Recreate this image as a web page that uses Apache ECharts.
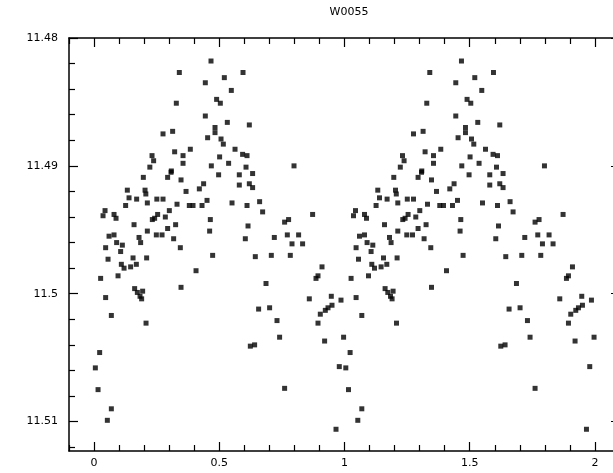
<!DOCTYPE html>
<html>
<head>
<meta charset="utf-8">
<script src="https://cdn.jsdelivr.net/npm/echarts@6/dist/echarts.min.js"></script>
<style>
  html, body { margin: 0; padding: 0; background: #fff; }
  #chart { width: 613px; height: 473px; }
</style>
</head>
<body>
<div id="chart"></div>
<script>
// folded light curve, one cycle; drawn twice (phase and phase + 1)
var phase = [
  0.467, 0.3405, 0.5948, 0.5202, 0.4443, 0.5481, 0.4894, 0.5042, 0.3285, 0.4443,
  0.5321, 0.62, 0.483, 0.483, 0.3138, 0.2754, 0.4535, 0.507, 0.5162, 0.5629,
  0.3844, 0.3218, 0.3553, 0.5014, 0.5932, 0.6108, 0.3553, 0.5373, 0.4683, 0.6068,
  0.2315, 0.2379, 0.2228, 0.3086, 0.7984, 0.1968, 0.1329, 0.2036, 0.2068, 0.1397,
  0.1701, 0.2507, 0.2754, 0.1261, 0.2128, 0.0439, 0.0359, 0.0798, 0.0878, 0.2419,
  0.2327, 0.1597, 0.2128, 0.2487, 0.0599, 0.0798, 0.1796, 0.186, 0.0902, 0.113,
  0.1062, 0.0463, 0.1557, 0.21, 0.0559, 0.109, 0.1198, 0.1461, 0.1689, 0.0958,
  0.0263, 0.1621, 0.1729, 0.194, 0.1836, 0.0463, 0.19, 0.0691, 0.2076, 0.0224,
  0.0052, 0.016, 0.0691, 0.0531, 0.3074, 0.2938, 0.3473, 0.4974, 0.58, 0.62,
  0.58, 0.4375, 0.4204, 0.3673, 0.3313, 0.3804, 0.3952, 0.4311, 0.4511, 0.5509,
  0.6108, 0.3006, 0.2539, 0.2846, 0.4643, 0.3257, 0.2938, 0.6148, 0.4615, 0.2715,
  0.3178, 0.604, 0.3445, 0.4735, 0.4072, 0.3473, 0.6331, 0.6331, 0.6611, 0.6731,
  0.8727, 0.7609, 0.7768, 0.7198, 0.7717, 0.8168, 0.7904, 0.8327, 0.6439, 0.7078,
  0.7836, 0.9102, 0.8942, 0.8862, 0.6866, 0.8595, 0.9473, 0.986, 0.6571, 0.701,
  0.9501, 0.9341, 0.9234, 0.9034, 0.7305, 0.8942, 0.7409, 0.9206, 0.9964, 0.6411,
  0.624, 0.9792, 0.7609, 0.9661
]
var mag = [
  11.4818, 11.4827, 11.4827, 11.4831, 11.4835, 11.4841, 11.4848, 11.4851, 11.4851, 11.4861,
  11.4866, 11.4868, 11.487, 11.4874, 11.4873, 11.4875, 11.4878, 11.4879, 11.4883, 11.4887,
  11.4887, 11.4889, 11.4892, 11.4893, 11.4891, 11.4892, 11.4898, 11.4898, 11.49, 11.4901,
  11.4892, 11.4896, 11.4901, 11.4904, 11.49, 11.4909, 11.4919, 11.4919, 11.4922, 11.4925,
  11.4926, 11.4926, 11.4926, 11.4931, 11.4929, 11.4935, 11.4939, 11.4938, 11.4941, 11.4941,
  11.4942, 11.4946, 11.4951, 11.4954, 11.4955, 11.4954, 11.4956, 11.496, 11.496, 11.4962,
  11.4967, 11.4964, 11.4972, 11.4972, 11.4973, 11.4977, 11.498, 11.4979, 11.4977, 11.4986,
  11.4988, 11.4996, 11.4999, 11.4998, 11.5002, 11.5003, 11.5004, 11.5017, 11.5023, 11.5046,
  11.5058, 11.5075, 11.509, 11.5099, 11.4905, 11.4909, 11.4911, 11.4907, 11.4907, 11.4914,
  11.4915, 11.4914, 11.4918, 11.492, 11.493, 11.4931, 11.4931, 11.4931, 11.4927, 11.4929,
  11.4931, 11.4935, 11.4938, 11.494, 11.4942, 11.4946, 11.4949, 11.4947, 11.4951, 11.4954,
  11.4957, 11.4957, 11.4964, 11.497, 11.4982, 11.4995, 11.4906, 11.4917, 11.4928, 11.4936,
  11.4938, 11.4944, 11.4942, 11.4956, 11.4954, 11.4954, 11.4961, 11.4961, 11.4971, 11.497,
  11.497, 11.4979, 11.4986, 11.4988, 11.4992, 11.5004, 11.5002, 11.5005, 11.5012, 11.5011,
  11.5009, 11.5011, 11.5013, 11.5016, 11.5021, 11.5023, 11.5034, 11.5037, 11.5034, 11.504,
  11.5041, 11.5057, 11.5074, 11.5106
]

var xMajor = [0, 0.5, 1, 1.5, 2]
var xMinor = [-0.1, 0.1, 0.2, 0.3, 0.4, 0.6, 0.7, 0.8, 0.9, 1.1, 1.2, 1.3, 1.4,
  1.6, 1.7, 1.8, 1.9, 2.1]
var yMajor = [11.48, 11.49, 11.5, 11.51]
var yMinor = [11.482, 11.484, 11.486, 11.488, 11.492, 11.494, 11.496, 11.498,
  11.502, 11.504, 11.506, 11.508, 11.512]

var font = 'DejaVu Sans'

function xAxisOf(pos, ticks, len, withLabel) {
  return {
    type: 'value',
    position: pos,
    min: -0.1,
    max: 2.1,
    splitLine: { show: false },
    axisLine: { show: withLabel !== null, onZero: false, lineStyle: { color: '#000', width: 1.5 } },
    axisTick: { inside: true, length: len, customValues: ticks, lineStyle: { color: '#000', width: 1.2 } },
    axisLabel: withLabel ? {
      customValues: ticks,
      margin: 7,
      color: '#000',
      fontFamily: font,
      fontSize: 11,
      formatter: function (v) { return String(+v.toFixed(1)) }
    } : { show: false }
  }
}

function yAxisOf(pos, ticks, len, withLabel) {
  return {
    type: 'value',
    position: pos,
    inverse: true,
    min: 11.48,
    max: 11.5123,
    splitLine: { show: false },
    axisLine: { show: withLabel !== null, onZero: false, lineStyle: { color: '#000', width: 1.5 } },
    axisTick: { inside: true, length: len, customValues: ticks, lineStyle: { color: '#000', width: 1.2 } },
    axisLabel: withLabel ? {
      customValues: ticks,
      margin: 11,
      color: '#000',
      fontFamily: font,
      fontSize: 11,
      formatter: function (v) { return String(+v.toFixed(2)) }
    } : { show: false }
  }
}

var points = []
for (var i = 0; i < phase.length; i++) {
  points.push([phase[i], mag[i]])
  points.push([phase[i] + 1, mag[i]])
}

var chart = echarts.init(document.getElementById('chart'))
chart.setOption({
  animation: false,
  backgroundColor: '#fff',
  title: {
    text: 'W0055',
    left: 344,
    textAlign: 'center',
    top: 2,
    textStyle: { fontFamily: font, fontSize: 11, fontWeight: 'normal', color: '#000' }
  },
  grid: { left: 69, right: -7, top: 38, bottom: 22, containLabel: false, outerBoundsMode: 'none' },
  xAxis: [
    xAxisOf('bottom', xMajor, 9, true),
    xAxisOf('bottom', xMinor, 6, null),
    xAxisOf('top', xMajor, 9, false),
    xAxisOf('top', xMinor, 6, null)
  ],
  yAxis: [
    yAxisOf('left', yMajor, 9, true),
    yAxisOf('left', yMinor, 6, null),
    yAxisOf('right', yMajor, 9, false),
    yAxisOf('right', yMinor, 6, null)
  ],
  series: [{
    type: 'scatter',
    xAxisIndex: 0,
    yAxisIndex: 0,
    symbol: 'rect',
    symbolSize: 5,
    itemStyle: { color: '#000' },
    silent: true,
    data: points
  }]
})
</script>
</body>
</html>
